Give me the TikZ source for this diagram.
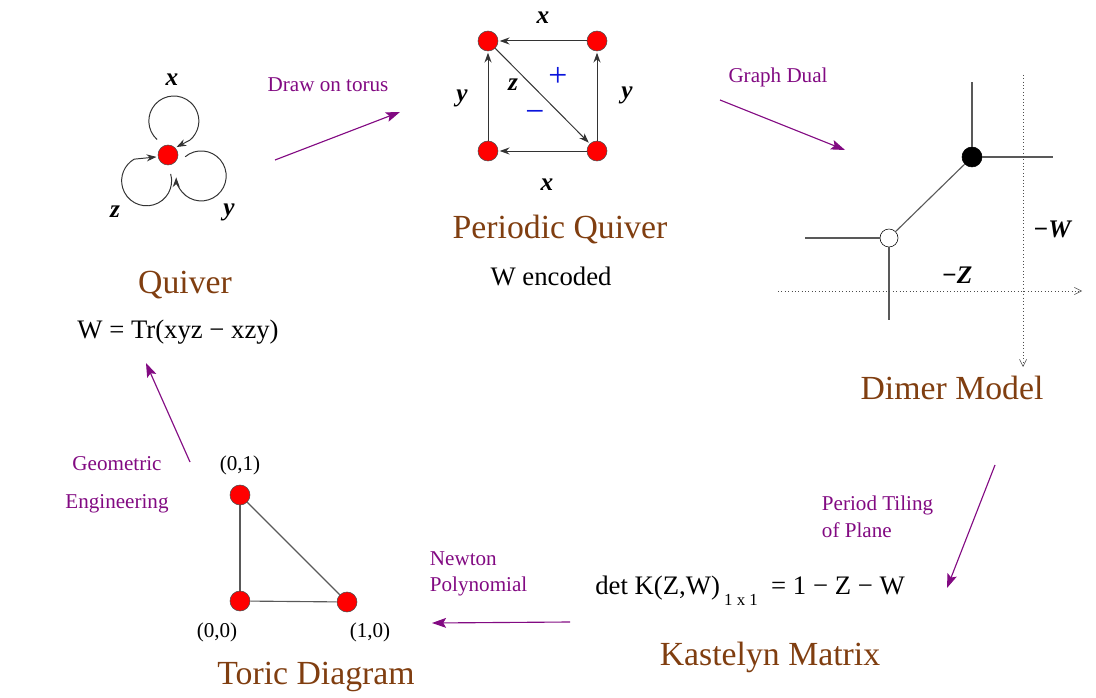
\documentclass[tikz,border=0pt]{standalone}
\usepackage{fontspec}
\setmainfont{Liberation Serif}
\usepackage{tikz}
\usetikzlibrary{arrows.meta}
\definecolor{titlebrown}{RGB}{128,62,16}
\definecolor{steppurple}{RGB}{130,10,130}
\definecolor{signblue}{RGB}{10,20,220}
\tikzset{
  vert/.style={circle, draw=black!70, fill=red, minimum size=0.5cm, inner sep=0pt},
  blackvert/.style={circle, draw, fill=black, minimum size=0.5cm, inner sep=0pt},
  whitevert/.style={circle, draw, fill=white, minimum size=0.45cm, inner sep=0pt},
  quivarrow/.style={black!80, line width=0.7pt, -{Stealth[length=7pt, width=5pt]}, shorten >=1pt},
  graphline/.style={black!65, line width=0.8pt},
  steparrow/.style={steppurple, thick, -{Stealth[length=10pt, width=7pt, inset=2pt]}},
  steplabel/.style={steppurple, font=\fontsize{15}{19}\selectfont},
  title/.style={titlebrown, font=\fontsize{24}{28}\selectfont},
  formula/.style={font=\fontsize{19}{23}\selectfont},
  edgelabel/.style={font=\fontsize{18}{20}\selectfont\bfseries\itshape},
  coordlabel/.style={font=\fontsize{15}{18}\selectfont},
}

\begin{document}
\begin{tikzpicture}[x=0.025cm, y=0.025cm]
\useasboundingbox (0,0) rectangle (1096,697);

% Quiver
\node[vert] (q) at (168,542) {};
\draw[quivarrow] (q.125) ++(-5,7) arc[start angle=228, end angle=-50, radius=25] -- (q.45);
\draw[quivarrow] (q.-75) ++(0,-9) arc[start angle=16, end angle=-240, radius=25] -- (q.190);
\draw[quivarrow] (q.-10) ++(7,0) arc[start angle=130, end angle=-180, radius=25];
\node[edgelabel] (qx) at (172,617) {x};
\node[edgelabel] (qz) at (115,485) {z};
\node[edgelabel] (qy) at (229,485) {y};
\node[title] (quiver) at (185,412) {Quiver};
\node[formula] (superpot) at (178,365) {W = Tr(xyz − xzy)};

% Periodic quiver
\node[vert] (tl) at (488,656) {};
\node[vert] (tr) at (597,656) {};
\node[vert] (bl) at (488,546) {};
\node[vert] (br) at (597,546) {};
\draw[quivarrow] (tr) -- (tl);
\draw[quivarrow] (br) -- (bl);
\draw[quivarrow] (bl) -- (tl);
\draw[quivarrow] (br) -- (tr);
\draw[quivarrow] (tl) -- (br);
\node[edgelabel] (px1) at (543,679) {x};
\node[edgelabel] (px2) at (547,512) {x};
\node[edgelabel] (py1) at (462,599) {y};
\node[edgelabel] (py2) at (627,602) {y};
\node[edgelabel] (pz) at (513,612) {z};
\node[signblue, font=\fontsize{24}{26}\selectfont] (plus) at (558,620) {+};
\node[signblue, font=\fontsize{24}{26}\selectfont] (minus) at (535,581) {−};
\node[title] (periodic) at (560,467) {Periodic Quiver};
\node[formula] (encoded) at (551,421) {W encoded};

% Dimer model
\node[blackvert] (b) at (972,540) {};
\node[whitevert] (w) at (889,459) {};
\coordinate (bup) at (972,615);
\coordinate (bright) at (1053,540);
\coordinate (wleft) at (805,459);
\coordinate (wdown) at (889,377);
\draw[graphline] (b) -- (bup);
\draw[graphline] (b) -- (bright);
\draw[graphline] (w) -- (b);
\draw[graphline] (w) -- (wleft);
\draw[graphline] (w) -- (wdown);
\coordinate (vtop) at (1023,622);
\coordinate (vbot) at (1023,330);
\coordinate (hleft) at (778,406);
\coordinate (hright) at (1082,406);
\draw[black!70, dotted, -{Straight Barb[length=5pt, width=5pt]}] (vtop) -- (vbot);
\draw[black!70, dotted, -{Straight Barb[length=5pt, width=5pt]}] (hleft) -- (hright);
\node[edgelabel] (mw) at (1052,468) {−W};
\node[edgelabel] (mz) at (957,422) {−Z};
\node[title] (dimer) at (952,309) {Dimer Model};

% Kastelyn matrix
\node[formula] (detk) at (750,106) {det K(Z,W)\raisebox{-8pt}{\fontsize{12}{12}\selectfont\ 1 x 1}\ \ = 1 − Z − W};
\node[title] (kastelyn) at (770,40) {Kastelyn Matrix};

% Toric diagram
\node[vert] (t01) at (240,202) {};
\node[vert] (t00) at (240,96) {};
\node[vert] (t10) at (347,95) {};
\draw[graphline] (t00) -- (t01);
\draw[graphline] (t01) -- (t10);
\draw[graphline] (t10) -- (t00);
\node[coordlabel] (l01) at (240,232) {(0,1)};
\node[coordlabel] (l00) at (217,65) {(0,0)};
\node[coordlabel] (l10) at (370,65) {(1,0)};
\node[title] (toric) at (316,20) {Toric Diagram};

% the steps round the cycle
\coordinate (a1s) at (275,537); \coordinate (a1e) at (400,585);
\coordinate (a2s) at (720,597); \coordinate (a2e) at (845,547);
\coordinate (a3s) at (995,232); \coordinate (a3e) at (947,109);
\coordinate (a4s) at (570,75);  \coordinate (a4e) at (432,74);
\coordinate (a5s) at (190,235); \coordinate (a5e) at (146,334);
\draw[steparrow] (a1s) -- (a1e);
\draw[steparrow] (a2s) -- (a2e);
\draw[steparrow] (a3s) -- (a3e);
\draw[steparrow] (a4s) -- (a4e);
\draw[steparrow] (a5s) -- (a5e);
\node[steplabel] (torus) at (328,612) {Draw on torus};
\node[steplabel] (dual) at (778,620) {Graph Dual};
\node[steplabel, align=left, anchor=west] (tiling) at (817,180) {Period Tiling\\of Plane};
\node[steplabel, align=left, anchor=west] (newton) at (425,123) {Newton\\Polynomial};
\node[steplabel, align=center, font=\fontsize{15}{27}\selectfont] (geom) at (117,212) {Geometric\\Engineering};
\end{tikzpicture}
\end{document}
